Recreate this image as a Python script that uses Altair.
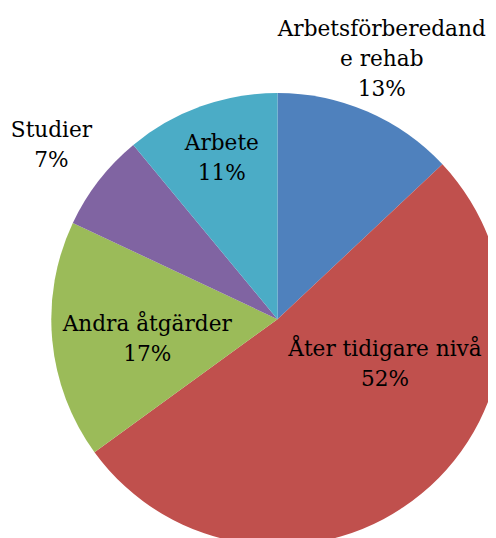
import altair as alt
import pandas as pd

categories = ["Arbetsförberedande rehab", "Åter tidigare nivå", "Andra åtgärder", "Studier", "Arbete"]
values = [13, 52, 17, 7, 11]
labels = ["Arbetsförberedand\ne rehab\n13%", "Åter tidigare nivå\n52%", "Andra åtgärder\n17%", "Studier\n7%", "Arbete\n11%"]
colors = ["#4F81BD", "#C0504D", "#9BBB59", "#8064A2", "#4BACC6"]

df = pd.DataFrame({"category": categories, "value": values, "label": labels,
                   "idx": list(range(len(categories)))})

CX, CY, R = 274, 312, 230
FONT = "DejaVu Serif"
LH = 30.5

base = alt.Chart(df).encode(
    theta=alt.Theta("value:Q", stack=True),
    order=alt.Order("idx:Q"),
    x=alt.value(CX),
    y=alt.value(CY),
)

arcs = base.mark_arc(radius=R).encode(
    color=alt.Color("category:N", scale=alt.Scale(domain=categories, range=colors), legend=None),
)

# label placement per slice: (radius, dx, dy, number of lines)
placement = {
    "Arbetsförberedande rehab": (282, -6, -6, 3),
    "Åter tidigare nivå": (60, 71, -1, 2),
    "Andra åtgärder": (133, 0, 8, 2),
    "Studier": (287, -3, -1, 2),
    "Arbete": (170, 1, -4, 2),
}

layers = [arcs]
for cat, (r, dx, dy, n) in placement.items():
    layers.append(
        base.mark_text(radius=r, dx=dx, dy=dy - (n - 1) / 2 * LH, font=FONT, fontSize=22,
                       lineBreak="\n", lineHeight=LH, align="center", baseline="middle",
                       color="#000000").encode(
            text=alt.condition(alt.datum.category == cat, alt.Text("label:N"), alt.value(""))
        )
    )

chart = alt.layer(*layers).properties(
    width=488, height=530, padding=0, autosize=alt.AutoSizeParams(type="none")
).configure_view(stroke=None)

chart.save("out.html", embed_options={"renderer": "svg", "actions": False})
